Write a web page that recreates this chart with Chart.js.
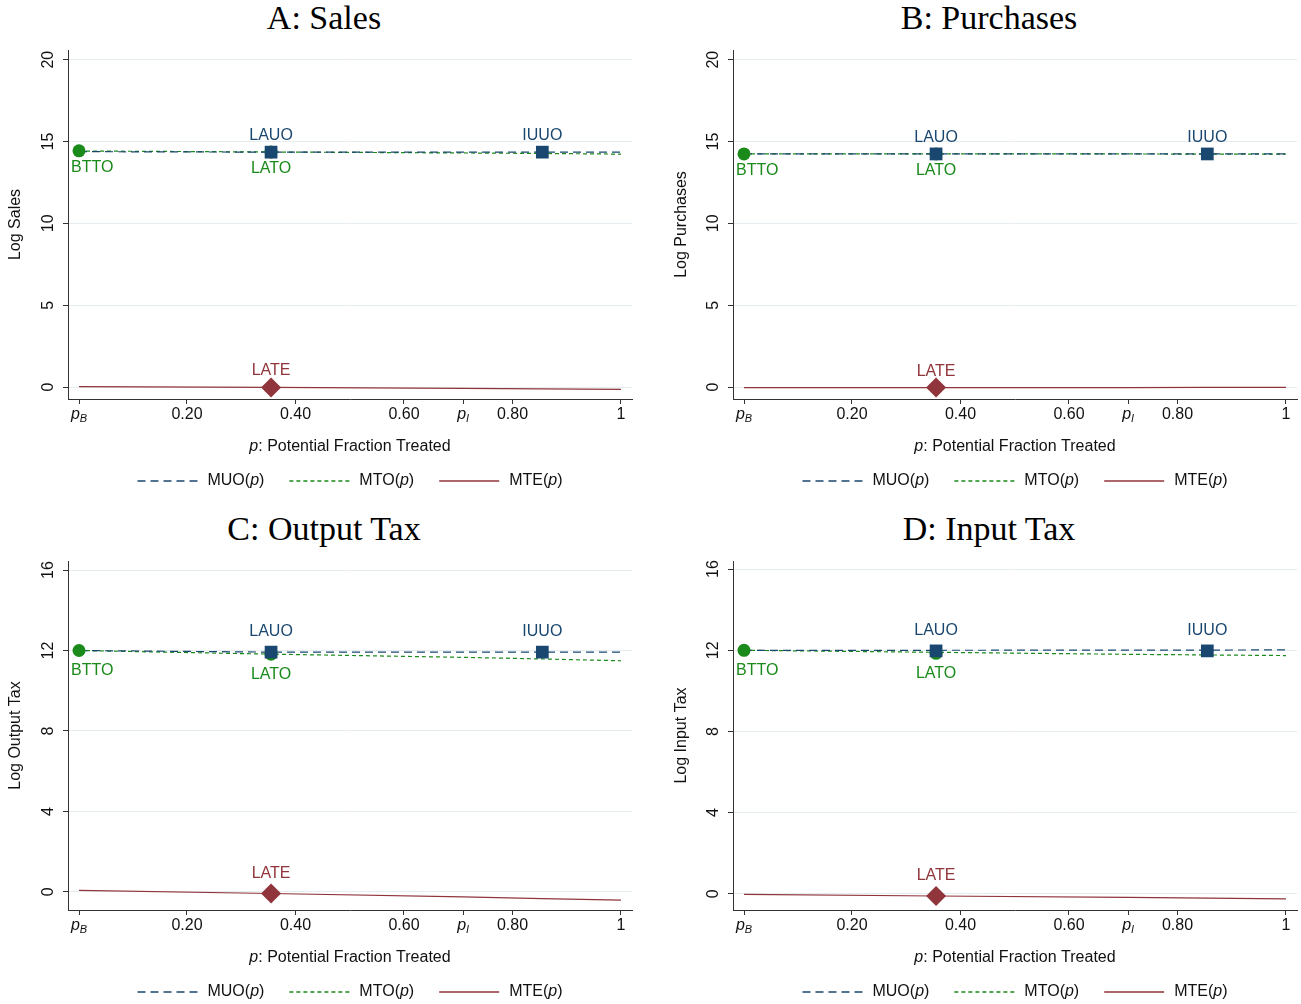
<!DOCTYPE html>
<html>
<head>
<meta charset="utf-8">
<script src="https://cdn.jsdelivr.net/npm/chart.js@4.4.1/dist/chart.umd.min.js"></script>
<style>
body { margin:0; background:#fff; width:1301px; height:1004px; position:relative; overflow:hidden; }
.panel { position:absolute; }
.ttl { position:absolute; font-family:"Liberation Serif", "Times New Roman", serif; font-size:34px; color:#000;
       transform:translate(-50%, -50%); white-space:nowrap; }
</style>
</head>
<body>
<div class="ttl" style="left:324px;top:18px">A: Sales</div>
<div class="ttl" style="left:989px;top:18px">B: Purchases</div>
<div class="ttl" style="left:324px;top:529px">C: Output Tax</div>
<div class="ttl" style="left:989px;top:529px">D: Input Tax</div>

<div class="panel" style="left:0;top:40px"><canvas id="cA" width="650" height="465"></canvas></div>
<div class="panel" style="left:650px;top:40px"><canvas id="cB" width="651" height="465"></canvas></div>
<div class="panel" style="left:0;top:550px"><canvas id="cC" width="650" height="454"></canvas></div>
<div class="panel" style="left:650px;top:550px"><canvas id="cD" width="651" height="454"></canvas></div>

<script>
var pB = 0.001, pI = 0.709;
var pGrid = [0.001, 0.355, 0.709, 0.855, 1];
var xTickVals = [0.001, 0.2, 0.4, 0.6, 0.709, 0.8, 1];
var xTickLabels = ['pB', '0.20', '0.40', '0.60', 'pI', '0.80', '1'];
var markerNames = ['BTTO', 'LATO', 'LAUO', 'IUUO', 'LATE'];
var markerX = [0.001, 0.355, 0.355, 0.855, 0.355];
var legendNames = ['MUO', 'MTO', 'MTE'];

// A: Sales
var salesMUO = [14.38, 14.35, 14.35, 14.35, 14.35];
var salesMTO = [14.42, 14.36, 14.30, 14.27, 14.23];
var salesMTE = [0.02, -0.02, -0.08, -0.11, -0.14];
var salesMarks = [14.43, 14.36, 14.35, 14.35, -0.02];
var salesTicks = [0, 5, 10, 15, 20];

// B: Purchases
var purchMUO = [14.24, 14.24, 14.24, 14.24, 14.24];
var purchMTO = [14.24, 14.24, 14.24, 14.23, 14.23];
var purchMTE = [-0.04, -0.03, -0.03, -0.02, -0.02];
var purchMarks = [14.24, 14.24, 14.24, 14.24, -0.03];
var purchTicks = [0, 5, 10, 15, 20];

// C: Output Tax
var outMUO = [12.0, 11.92, 11.92, 11.92, 11.92];
var outMTO = [12.0, 11.82, 11.66, 11.58, 11.49];
var outMTE = [0.08, -0.08, -0.25, -0.33, -0.41];
var outMarks = [12.0, 11.82, 11.92, 11.92, -0.08];
var outTicks = [0, 4, 8, 12, 16];

// D: Input Tax
var inMUO = [12.0, 12.0, 12.01, 12.01, 12.02];
var inMTO = [12.0, 11.9, 11.8, 11.77, 11.74];
var inMTE = [-0.03, -0.11, -0.18, -0.21, -0.25];
var inMarks = [12.0, 11.85, 11.97, 11.97, -0.11];
var inTicks = [0, 4, 8, 12, 16];

var FONT = '"Liberation Sans", Arial, sans-serif';
var NAVY = '#1a476f', GREEN = '#1a8a1a', MAROON = '#90353b';
var lineColors = [NAVY, GREEN, MAROON];
var lineDashes = [[8, 5], [4, 3], []];

function toPts(xs, ys) {
  return xs.map(function (x, i) { return { x: x, y: ys[i] }; });
}

// draw a run of text pieces, some italic / subscript
function drawRich(ctx, parts, x, y, align) {
  var total = 0;
  parts.forEach(function (p) {
    ctx.font = (p.it ? 'italic ' : '') + (p.size || 16) + 'px ' + FONT;
    p.w = ctx.measureText(p.t).width;
    total += p.w;
  });
  var cx = align === 'center' ? x - total / 2 : x;
  ctx.textAlign = 'left';
  ctx.textBaseline = 'middle';
  parts.forEach(function (p) {
    ctx.font = (p.it ? 'italic ' : '') + (p.size || 16) + 'px ' + FONT;
    ctx.fillText(p.t, cx, y + (p.dy || 0));
    cx += p.w;
  });
  return total;
}

var panelText = {
  id: 'panelText',
  afterDraw: function (chart) {
    var o = chart.options.plugins.panelText;
    var ctx = chart.ctx, a = chart.chartArea, xs = chart.scales.x;
    var cx = (a.left + a.right) / 2;
    ctx.save();
    ctx.fillStyle = '#111';

    // y title
    ctx.save();
    ctx.translate(o.yTitleX, (a.top + a.bottom) / 2);
    ctx.rotate(-Math.PI / 2);
    ctx.font = '16px ' + FONT;
    ctx.textAlign = 'center';
    ctx.textBaseline = 'middle';
    ctx.fillText(o.yTitle, 0, 0);
    ctx.restore();

    // pB and pI tick labels
    xTickLabels.forEach(function (l, i) {
      if (l.charAt(0) !== 'p') return;
      var px = xs.getPixelForValue(xTickVals[i]);
      drawRich(ctx, [{ t: 'p', it: true }, { t: l.charAt(1), it: true, size: 11, dy: 4 }], px, a.bottom + 16, 'center');
    });

    // x title
    drawRich(ctx, [{ t: 'p', it: true }, { t: ': Potential Fraction Treated' }], cx, a.bottom + 48, 'center');

    // legend
    var ly = a.bottom + 82;
    var items = legendNames.map(function (n) {
      return [{ t: n + '(' }, { t: 'p', it: true }, { t: ')' }];
    });
    var widths = items.map(function (parts) {
      var w = 0;
      parts.forEach(function (p) {
        ctx.font = (p.it ? 'italic ' : '') + '16px ' + FONT;
        w += ctx.measureText(p.t).width;
      });
      return w;
    });
    var total = 0;
    widths.forEach(function (w) { total += 60 + 10 + w; });
    total += 2 * 25;
    var lx = cx - total / 2;
    items.forEach(function (parts, i) {
      ctx.save();
      ctx.strokeStyle = lineColors[i];
      ctx.lineWidth = 1.3;
      ctx.setLineDash(lineDashes[i]);
      ctx.beginPath();
      ctx.moveTo(lx, ly);
      ctx.lineTo(lx + 60, ly);
      ctx.stroke();
      ctx.restore();
      ctx.fillStyle = '#111';
      drawRich(ctx, parts, lx + 70, ly, 'left');
      lx += 70 + widths[i] + 25;
    });
    ctx.restore();
  }
};

var markLabels = {
  id: 'markLabels',
  afterDatasetsDraw: function (chart) {
    var ctx = chart.ctx, ys = chart.scales.y, xs = chart.scales.x;
    ctx.save();
    ctx.font = '16px ' + FONT;
    ctx.textBaseline = 'middle';
    chart.data.datasets.forEach(function (ds) {
      if (!ds.markName) return;
      var pt = ds.data[0];
      var px = xs.getPixelForValue(pt.x);
      var py = ys.getPixelForValue(pt.y + ds.labelShift);
      ctx.fillStyle = ds.labelColor;
      if (ds.markName === 'BTTO') {
        ctx.textAlign = 'left';
        ctx.fillText(ds.markName, px - 8, py);
      } else {
        ctx.textAlign = 'center';
        ctx.fillText(ds.markName, px, py);
      }
    });
    ctx.restore();
  }
};

function makePanel(id, muo, mto, mte, marks, yTicks, yMin, yMax, yTitle, geo) {
  var lineSets = [muo, mto, mte].map(function (vals, i) {
    return {
      data: toPts(pGrid, vals),
      borderColor: lineColors[i],
      borderWidth: 1.2,
      borderDash: lineDashes[i],
      pointRadius: 0,
      fill: false,
      tension: 0,
      order: 10 + i
    };
  });
  // lower order is drawn on top: diamond, then squares, then circles
  var styles = [
    { ps: 'circle', r: 6.5, c: GREEN, shift: -1, order: 3 },
    { ps: 'circle', r: 6.5, c: GREEN, shift: -1, order: 3 },
    { ps: 'rect', r: 9, c: NAVY, shift: 1, order: 2 },
    { ps: 'rect', r: 9, c: NAVY, shift: 1, order: 2 },
    { ps: 'rectRot', r: 10, c: MAROON, shift: 1, order: 1 }
  ];
  var markSets = markerNames.map(function (n, i) {
    var s = styles[i];
    return {
      markName: n,
      labelColor: s.c,
      labelShift: s.shift,
      data: [{ x: markerX[i], y: marks[i] }],
      showLine: false,
      order: s.order,
      pointStyle: s.ps,
      pointRadius: s.r,
      pointBackgroundColor: s.c,
      pointBorderColor: s.c,
      pointBorderWidth: 0
    };
  });

  new Chart(document.getElementById(id), {
    type: 'line',
    data: { datasets: lineSets.concat(markSets) },
    plugins: [panelText, markLabels],
    options: {
      responsive: false,
      animation: false,
      layout: { autoPadding: false, padding: { top: geo.padTop, right: geo.padRight, left: 0, bottom: 0 } },
      plugins: {
        legend: { display: false },
        tooltip: { enabled: false },
        panelText: { yTitle: yTitle, yTitleX: geo.yTitleX }
      },
      scales: {
        x: {
          type: 'linear',
          min: -0.0193,
          max: 1.0203,
          afterBuildTicks: function (s) {
            s.ticks = xTickVals.map(function (v) { return { value: v }; });
          },
          afterFit: function (s) {
            s.height = geo.xHeight;
            s.paddingLeft = 0;
            s.paddingRight = 0;
          },
          ticks: {
            autoSkip: false,
            maxRotation: 0,
            padding: 1,
            color: '#111',
            font: { family: FONT, size: 16 },
            callback: function (v, i) {
              var l = xTickLabels[i];
              return l.charAt(0) === 'p' ? '' : l;
            }
          },
          grid: { drawOnChartArea: false, tickLength: 5, tickColor: '#333' },
          border: { color: '#333', width: 1 }
        },
        y: {
          type: 'linear',
          min: yMin,
          max: yMax,
          afterBuildTicks: function (s) {
            s.ticks = yTicks.map(function (v) { return { value: v }; });
          },
          afterFit: function (s) {
            s.width = geo.yWidth;
            s.paddingTop = 0;
            s.paddingBottom = 0;
          },
          ticks: {
            minRotation: 90,
            maxRotation: 90,
            crossAlign: 'center',
            padding: 6,
            color: '#111',
            font: { family: FONT, size: 16 }
          },
          grid: { color: '#e5edf0', lineWidth: 1, tickLength: 5, tickColor: '#333' },
          border: { color: '#333', width: 1 }
        }
      }
    }
  });
}

makePanel('cA', salesMUO, salesMTO, salesMTE, salesMarks, salesTicks, -0.73, 20.59, 'Log Sales',
  { padTop: 10, padRight: 18, yWidth: 68, xHeight: 106, yTitleX: 16 });
makePanel('cB', purchMUO, purchMTO, purchMTE, purchMarks, purchTicks, -0.73, 20.59, 'Log Purchases',
  { padTop: 10, padRight: 4, yWidth: 83, xHeight: 106, yTitleX: 32 });
makePanel('cC', outMUO, outMTO, outMTE, outMarks, outTicks, -0.9, 16.45, 'Log Output Tax',
  { padTop: 11, padRight: 18, yWidth: 68, xHeight: 94, yTitleX: 16 });
makePanel('cD', inMUO, inMTO, inMTE, inMarks, inTicks, -0.8, 16.4, 'Log Input Tax',
  { padTop: 11, padRight: 4, yWidth: 83, xHeight: 94, yTitleX: 32 });
</script>
</body>
</html>
